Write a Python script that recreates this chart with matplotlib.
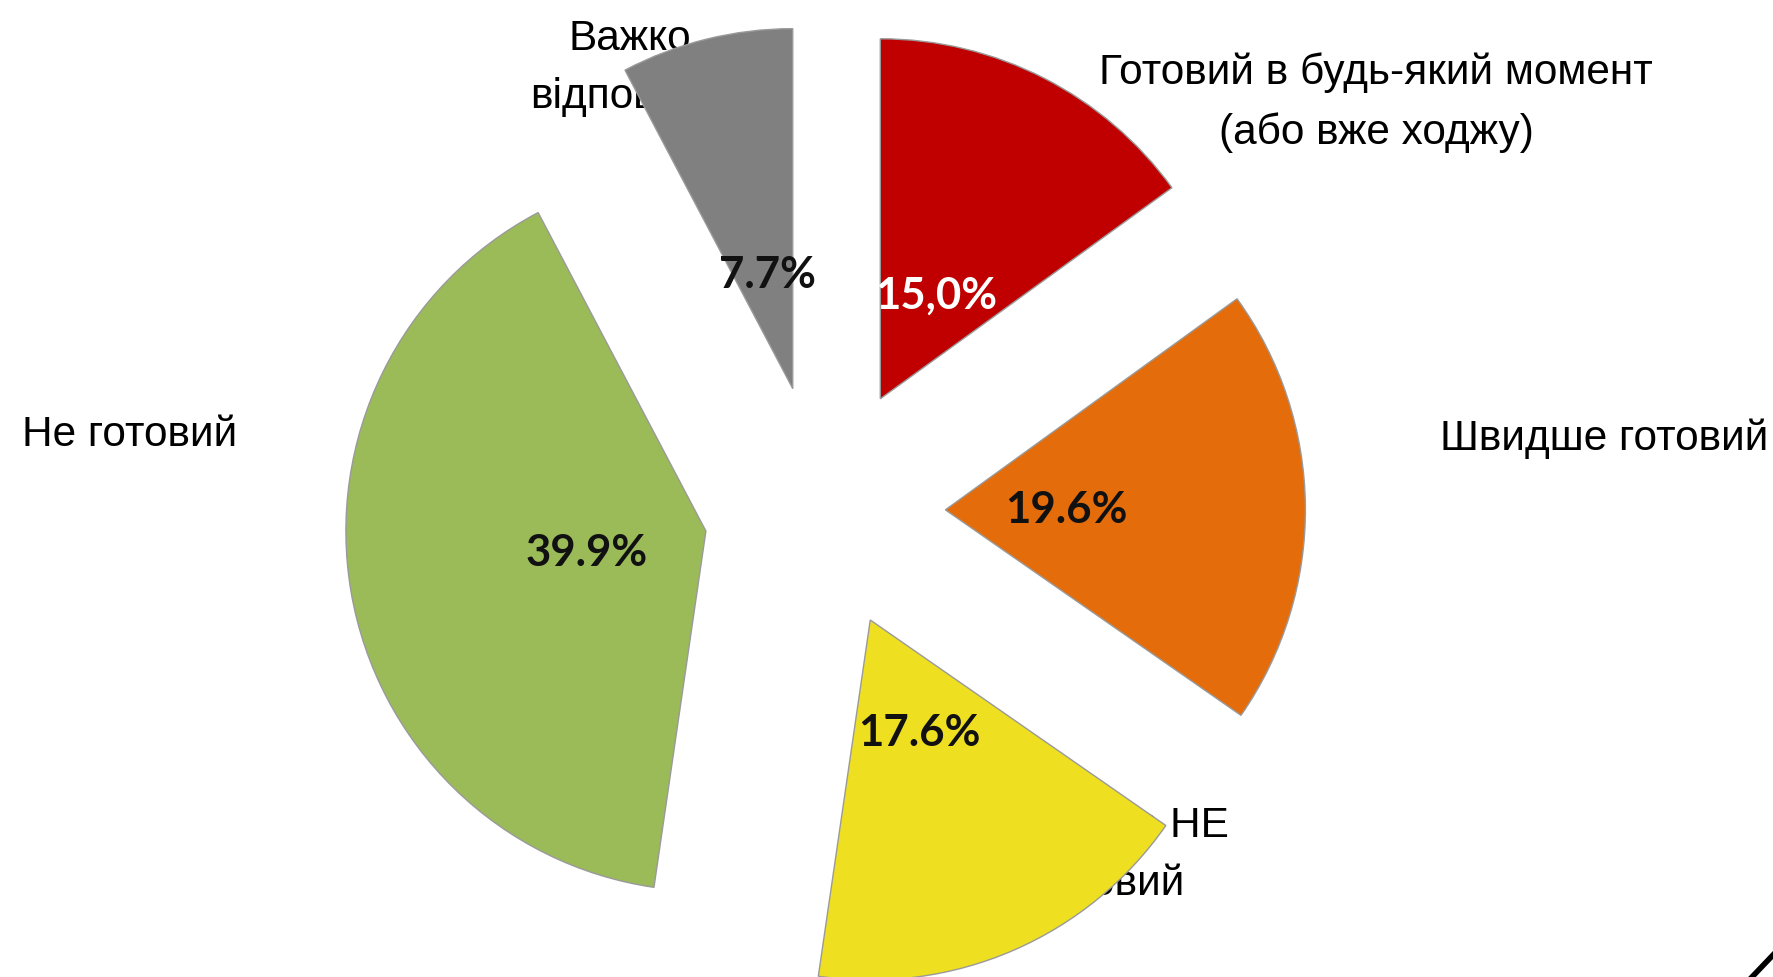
import matplotlib.pyplot as plt
from matplotlib.lines import Line2D

W, H = 1773, 978
CX, CY, R = 823, 512, 360  # pie centre and radius in pixels (from top-left)

# survey answers, clockwise from 12 o'clock
categories = [
    "Готовий в будь-який момент\n(або вже ходжу)",
    "Швидше готовий",
    "Швидше НЕ\nготовий",
    "Не готовий",
    "Важко\nвідповісти",
]
shares = [15.0, 19.6, 17.6, 39.9, 7.7]
pct_labels = ["15,0%", "19.6%", "17.6%", "39.9%", "7.7%"]

colors = ["#C00000", "#E46C0A", "#EEDF21", "#9BBB59", "#808080"]
pct_colors = ["white", "#111111", "#111111", "#111111", "#111111"]
explode = [0.35, 0.34, 0.33, 0.33, 0.35]

# label placement in pixels of the picture
cat_pos = [(1376, 103), (1604, 439), (1110, 855), (130, 435), (630, 68)]
pct_pos = [(936, 296), (1066, 510), (919, 733), (587, 553), (767, 275)]


def px(p):
    # pixel (from top-left) -> data units of the pie
    return (p[0] - CX) / R, (CY - p[1]) / R


fig = plt.figure(figsize=(W / 100, H / 100), dpi=100)
ax = fig.add_axes([0, 0, 1, 1])

wedges, _ = ax.pie(
    shares,
    colors=colors,
    explode=explode,
    startangle=90,
    counterclock=False,
    radius=1,
    center=(0, 0),
    wedgeprops=dict(edgecolor="#9a9a9a", linewidth=1),
    frame=True,
)
ax.set_xlim(-CX / R, (W - CX) / R)
ax.set_ylim(-(H - CY) / R, CY / R)
ax.set_aspect("equal")
ax.axis("off")
for w in wedges:
    w.set_zorder(2)

# category labels sit behind the slices, like in the original slide
for text, p in zip(categories, cat_pos):
    x, y = px(p)
    ax.text(x, y, text, ha="center", va="center", fontsize=30.5,
            family="Liberation Sans", color="black", linespacing=1.6,
            zorder=1)

for text, p, c in zip(pct_labels, pct_pos, pct_colors):
    x, y = px(p)
    ax.text(x, y, text, ha="center", va="center", fontsize=31.5,
            family="Lato", fontweight="bold", color=c, zorder=3)

# stray stroke in the bottom-right corner of the slide
fig.add_artist(Line2D([1752 / W, 1773 / W], [0, 22 / H], color="black",
                      linewidth=4, transform=fig.transFigure))

fig.savefig("out.png", dpi=100, facecolor="white")
